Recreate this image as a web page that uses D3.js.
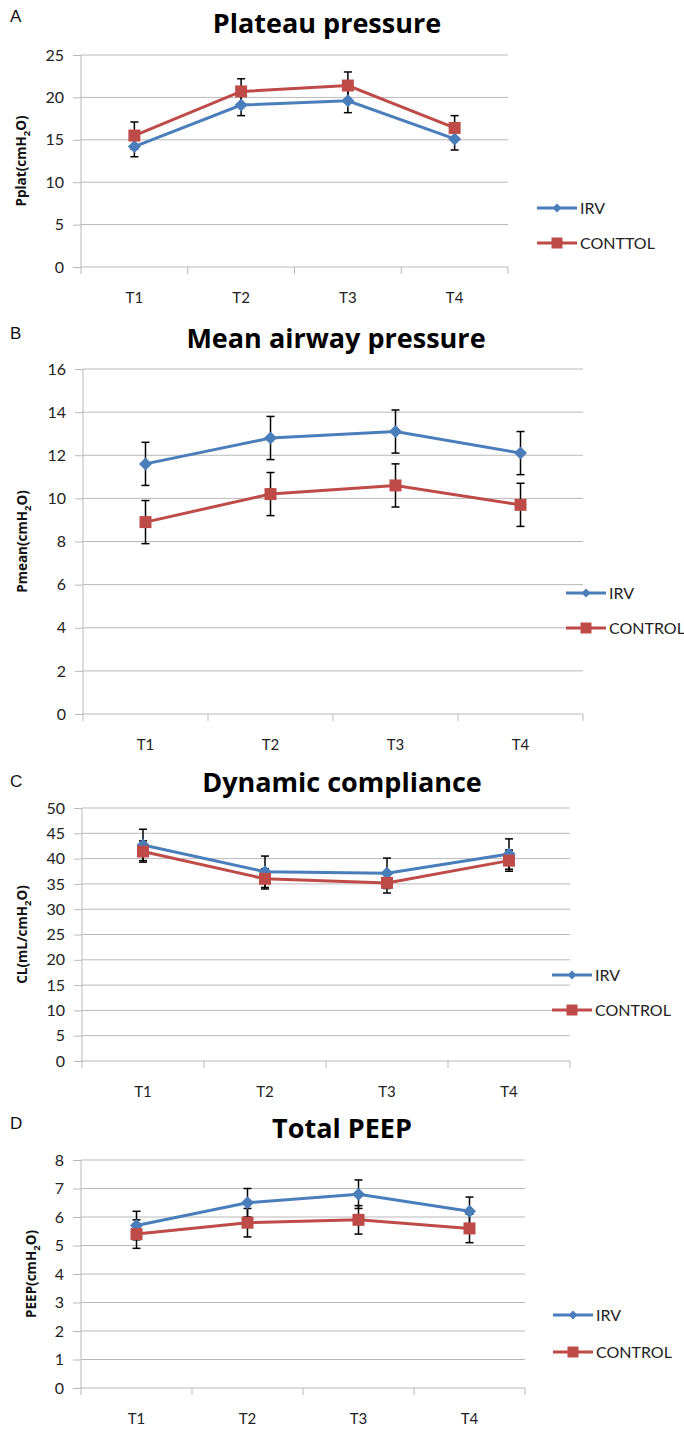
<!DOCTYPE html>
<html>
<head>
<meta charset="utf-8">
<script src="https://cdn.jsdelivr.net/npm/d3@7"></script>
<style>
  html, body { margin: 0; padding: 0; background: #fff; }
  svg { display: block; }
</style>
</head>
<body>
<div id="chart"></div>
<script>
// Categories shared by all four panels
const categories = ['T1', 'T2', 'T3', 'T4'];

// A - Plateau pressure
const pplatIRV = [14.2, 19.1, 19.6, 15.1];
const pplatIRVSd = [1.2, 1.25, 1.4, 1.3];
const pplatControl = [15.5, 20.7, 21.4, 16.4];
const pplatControlSd = [1.6, 1.5, 1.6, 1.45];
const pplatTicks = [0, 5, 10, 15, 20, 25];

// B - Mean airway pressure
const pmeanIRV = [11.6, 12.8, 13.1, 12.1];
const pmeanIRVSd = [1.0, 1.0, 1.0, 1.0];
const pmeanControl = [8.9, 10.2, 10.6, 9.7];
const pmeanControlSd = [1.0, 1.0, 1.0, 1.0];
const pmeanTicks = [0, 2, 4, 6, 8, 10, 12, 14, 16];

// C - Dynamic compliance
const clIRV = [42.7, 37.4, 37.1, 40.9];
const clIRVSd = [3.1, 3.1, 3.0, 3.0];
const clControl = [41.4, 36.0, 35.2, 39.6];
const clControlSd = [2.1, 2.0, 2.0, 2.1];
const clTicks = [0, 5, 10, 15, 20, 25, 30, 35, 40, 45, 50];

// D - Total PEEP
const peepIRV = [5.7, 6.5, 6.8, 6.2];
const peepIRVSd = [0.5, 0.5, 0.5, 0.5];
const peepControl = [5.4, 5.8, 5.9, 5.6];
const peepControlSd = [0.5, 0.5, 0.5, 0.5];
const peepTicks = [0, 1, 2, 3, 4, 5, 6, 7, 8];

const BLUE = '#4a7ebb';
const RED = '#be4b48';
const GRID = '#b9b9b9';
const FONT = 'Lato, "Open Sans", sans-serif';
const BOLD_FONT = '"Open Sans", Lato, sans-serif';

const svg = d3.select('#chart')
  .append('svg')
  .attr('width', 684)
  .attr('height', 1429);

// Panel layout (pixel boxes only, values come from the arrays above)
const panels = [
  {
    letter: 'A', letterY: 22, title: 'Plateau pressure', titleX: 327, titleY: 33,
    left: 81, right: 508, top: 55, bottom: 267, ticks: pplatTicks,
    yLabel: ['Pplat(cmH', '2', 'O)'], yLabelX: 21,
    irv: pplatIRV, irvSd: pplatIRVSd, control: pplatControl, controlSd: pplatControlSd,
    legendX: 557, legendY: [208, 243], controlName: 'CONTTOL'
  },
  {
    letter: 'B', letterY: 339, title: 'Mean airway pressure', titleX: 336, titleY: 348,
    left: 83, right: 583, top: 369, bottom: 714, ticks: pmeanTicks,
    yLabel: ['Pmean(cmH', '2', 'O)'], yLabelX: 22,
    irv: pmeanIRV, irvSd: pmeanIRVSd, control: pmeanControl, controlSd: pmeanControlSd,
    legendX: 586, legendY: [593, 628], controlName: 'CONTROL'
  },
  {
    letter: 'C', letterY: 787, title: 'Dynamic compliance', titleX: 342, titleY: 792,
    left: 82, right: 570, top: 808, bottom: 1061, ticks: clTicks,
    yLabel: ['CL(mL/cmH', '2', 'O)'], yLabelX: 22,
    irv: clIRV, irvSd: clIRVSd, control: clControl, controlSd: clControlSd,
    legendX: 572, legendY: [975, 1010], controlName: 'CONTROL'
  },
  {
    letter: 'D', letterY: 1129, title: 'Total PEEP', titleX: 342, titleY: 1138,
    left: 81, right: 525, top: 1160, bottom: 1388, ticks: peepTicks,
    yLabel: ['PEEP(cmH', '2', 'O)'], yLabelX: 31,
    irv: peepIRV, irvSd: peepIRVSd, control: peepControl, controlSd: peepControlSd,
    legendX: 573, legendY: [1315, 1352], controlName: 'CONTROL'
  }
];

function diamondPath(r) {
  return `M0,${-r}L${r},0L0,${r}L${-r},0Z`;
}

function squarePath(s) {
  const h = s / 2;
  return `M${-h},${-h}H${h}V${h}H${-h}Z`;
}

function drawPanel(p) {
  const g = svg.append('g');

  const x = d3.scaleBand()
    .domain(categories)
    .range([p.left, p.right]);

  const y = d3.scaleLinear()
    .domain([0, d3.max(p.ticks)])
    .range([p.bottom, p.top]);

  // Gridlines
  g.append('g')
    .selectAll('line')
    .data(p.ticks.filter(t => t > 0))
    .join('line')
    .attr('x1', p.left).attr('x2', p.right)
    .attr('y1', d => y(d)).attr('y2', d => y(d))
    .attr('stroke', GRID).attr('stroke-width', 1);

  // Y axis
  const yAxis = d3.axisLeft(y)
    .tickValues(p.ticks)
    .tickSize(8)
    .tickPadding(9)
    .tickFormat(d3.format('d'));

  g.append('g')
    .attr('transform', `translate(${p.left},0)`)
    .call(yAxis)
    .call(a => a.select('.domain').attr('stroke', GRID).attr('d', `M0,${p.top}V${p.bottom}`))
    .call(a => a.selectAll('line').attr('stroke', GRID))
    .call(a => a.selectAll('text')
      .attr('font-family', FONT)
      .attr('font-size', 16)
      .attr('fill', '#222'));

  // X axis: ticks at category boundaries, labels centered in bands
  g.append('line')
    .attr('x1', p.left).attr('x2', p.right)
    .attr('y1', p.bottom).attr('y2', p.bottom)
    .attr('stroke', GRID);

  const bounds = categories.map(c => x(c)).concat([x(categories[categories.length - 1]) + x.bandwidth()]);
  g.append('g')
    .selectAll('line')
    .data(bounds)
    .join('line')
    .attr('x1', d => d).attr('x2', d => d)
    .attr('y1', p.bottom).attr('y2', p.bottom + 7)
    .attr('stroke', GRID);

  g.append('g')
    .selectAll('text')
    .data(categories)
    .join('text')
    .attr('x', d => x(d) + x.bandwidth() / 2)
    .attr('y', p.bottom + 36)
    .attr('text-anchor', 'middle')
    .attr('font-family', FONT)
    .attr('font-size', 15)
    .attr('fill', '#222')
    .text(d => d);

  // Panel letter
  g.append('text')
    .attr('x', 10)
    .attr('y', p.letterY)
    .attr('font-family', '"Liberation Sans", Arial, sans-serif')
    .attr('font-size', 17)
    .attr('fill', '#111')
    .text(p.letter);

  // Title
  g.append('text')
    .attr('x', p.titleX)
    .attr('y', p.titleY)
    .attr('text-anchor', 'middle')
    .attr('font-family', BOLD_FONT)
    .attr('font-weight', 'bold')
    .attr('font-size', 27)
    .attr('fill', '#000')
    .text(p.title);

  // Y axis title with subscript
  const yl = g.append('text')
    .attr('transform', `translate(${p.yLabelX},${(p.top + p.bottom) / 2}) rotate(-90)`)
    .attr('text-anchor', 'middle')
    .attr('dy', '0.35em')
    .attr('font-family', BOLD_FONT)
    .attr('font-weight', 'bold')
    .attr('font-size', 13.5)
    .attr('fill', '#111');
  yl.append('tspan').text(p.yLabel[0]);
  yl.append('tspan').attr('font-size', 9.5).attr('dy', 4).text(p.yLabel[1]);
  yl.append('tspan').attr('dy', -4).text(p.yLabel[2]);

  const series = [
    { name: 'IRV', values: p.irv, sd: p.irvSd, color: BLUE, marker: diamondPath(6.5) },
    { name: p.controlName, values: p.control, sd: p.controlSd, color: RED, marker: squarePath(12) }
  ];

  const cx = c => x(c) + x.bandwidth() / 2;

  // Error bars first, underneath the lines
  series.forEach(s => {
    const eb = g.append('g').attr('stroke', '#000').attr('stroke-width', 1.5);
    categories.forEach((c, i) => {
      const hi = y(s.values[i] + s.sd[i]);
      const lo = y(s.values[i] - s.sd[i]);
      eb.append('line').attr('x1', cx(c)).attr('x2', cx(c)).attr('y1', hi).attr('y2', lo);
      eb.append('line').attr('x1', cx(c) - 4).attr('x2', cx(c) + 4).attr('y1', hi).attr('y2', hi);
      eb.append('line').attr('x1', cx(c) - 4).attr('x2', cx(c) + 4).attr('y1', lo).attr('y2', lo);
    });
  });

  const line = d3.line()
    .x((d, i) => cx(categories[i]))
    .y(d => y(d));

  series.forEach(s => {
    g.append('path')
      .datum(s.values)
      .attr('d', line)
      .attr('fill', 'none')
      .attr('stroke', s.color)
      .attr('stroke-width', 3);

    g.append('g')
      .selectAll('path')
      .data(s.values)
      .join('path')
      .attr('transform', (d, i) => `translate(${cx(categories[i])},${y(d)})`)
      .attr('d', s.marker)
      .attr('fill', s.color);
  });

  // Legend
  const legendMarkers = [diamondPath(4.5), squarePath(11)];
  series.forEach((s, i) => {
    const ly = p.legendY[i];
    const lg = g.append('g').attr('transform', `translate(${p.legendX},${ly})`);
    lg.append('line')
      .attr('x1', -20).attr('x2', 20)
      .attr('stroke', s.color).attr('stroke-width', 3);
    lg.append('path')
      .attr('d', legendMarkers[i])
      .attr('fill', s.color);
    lg.append('text')
      .attr('x', 23)
      .attr('dy', '0.36em')
      .attr('font-family', FONT)
      .attr('font-size', 16)
      .attr('fill', '#222')
      .text(s.name);
  });
}

panels.forEach(drawPanel);
</script>
</body>
</html>
